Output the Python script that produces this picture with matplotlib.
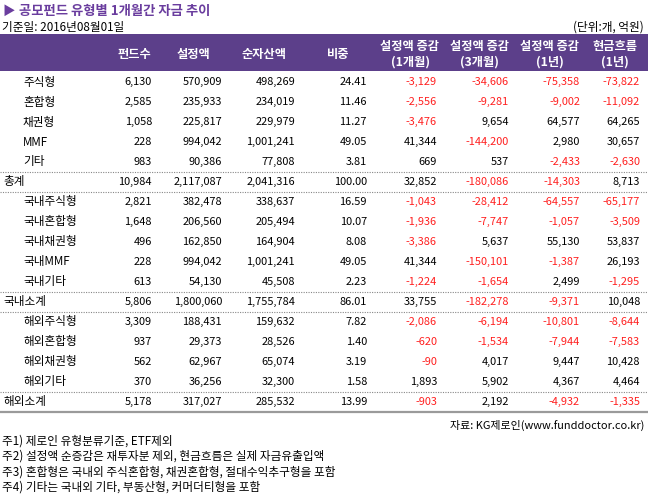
"""공모펀드 유형별 1개월간 자금 추이 table."""

import matplotlib

matplotlib.use("Agg")
import matplotlib.pyplot as plt

plt.rcParams["font.family"] = ["Noto Sans CJK KR", "DejaVu Sans"]

TITLE = "공모펀드 유형별 1개월간 자금 추이"
BASE_DATE = "기준일: 2016년08월01일"
UNIT = "(단위:개, 억원)"
SOURCE = "자료: KG제로인(www.funddoctor.co.kr)"
NOTES = [
    "주1) 제로인 유형분류기준, ETF제외",
    "주2) 설정액 순증감은 재투자분 제외, 현금흐름은 실제 자금유출입액",
    "주3) 혼합형은 국내외 주식혼합형, 채권혼합형, 절대수익추구형을 포함",
    "주4) 기타는 국내외 기타, 부동산형, 커머더티형을 포함",
]

headers = ["펀드수", "설정액", "순자산액", "비중", "설정액 증감\n(1개월)",
           "설정액 증감\n(3개월)", "설정액 증감\n(1년)", "현금흐름\n(1년)"]

row_labels = ["주식형", "혼합형", "채권형", "MMF", "기타", "총계",
              "국내주식형", "국내혼합형", "국내채권형", "국내MMF", "국내기타", "국내소계",
              "해외주식형", "해외혼합형", "해외채권형", "해외기타", "해외소계"]
is_total = [False] * 5 + [True] + [False] * 5 + [True] + [False] * 4 + [True]

fund_count = [6130, 2585, 1058, 228, 983, 10984,
              2821, 1648, 496, 228, 613, 5806,
              3309, 937, 562, 370, 5178]
aum_set = [570909, 235933, 225817, 994042, 90386, 2117087,
           382478, 206560, 162850, 994042, 54130, 1800060,
           188431, 29373, 62967, 36256, 317027]
net_assets = [498269, 234019, 229979, 1001241, 77808, 2041316,
              338637, 205494, 164904, 1001241, 45508, 1755784,
              159632, 28526, 65074, 32300, 285532]
weight = [24.41, 11.46, 11.27, 49.05, 3.81, 100.00,
          16.59, 10.07, 8.08, 49.05, 2.23, 86.01,
          7.82, 1.40, 3.19, 1.58, 13.99]
chg_1m = [-3129, -2556, -3476, 41344, 669, 32852,
          -1043, -1936, -3386, 41344, -1224, 33755,
          -2086, -620, -90, 1893, -903]
chg_3m = [-34606, -9281, 9654, -144200, 537, -180086,
          -28412, -7747, 5637, -150101, -1654, -182278,
          -6194, -1534, 4017, 5902, 2192]
chg_1y = [-75358, -9002, 64577, 2980, -2433, -14303,
          -64557, -1057, 55130, -1387, 2499, -9371,
          -10801, -7944, 9447, 4367, -4932]
cash_1y = [-73822, -11092, 64265, 30657, -2630, 8713,
           -65177, -3509, 53837, 26193, -1295, 10048,
           -8644, -7583, 10428, 4464, -1335]

PURPLE = "#5c3f8a"
TITLE_COLOR = "#6a3d9e"
RED = "#ff1f1f"
FS = 7.9       # numbers
FS_KR = 8.4    # korean labels / notes

col_right = [152, 222, 295, 367, 437, 509, 580, 640]
head_center = [134, 193, 264, 338, 410, 479, 550, 615]
row_y = [82 + 20 * i for i in range(len(row_labels))]
dotted_after = [4, 5, 10, 11, 15]

fig = plt.figure(figsize=(6.48, 4.99), dpi=100)
ax = fig.add_axes([0, 0, 1, 1])
ax.set_xlim(0, 648)
ax.set_ylim(499, 0)
ax.axis("off")

ax.text(2, 11, "▶", color=TITLE_COLOR, fontsize=9, va="center", ha="left")
ax.text(19, 11, TITLE, color=TITLE_COLOR, fontsize=9.6, fontweight="bold",
        va="center", ha="left")
ax.text(2, 27, BASE_DATE, fontsize=FS_KR, va="center", ha="left")
ax.text(644, 27, UNIT, fontsize=FS_KR, va="center", ha="right")

ax.add_patch(plt.Rectangle((0, 34), 648, 37, color=PURPLE, lw=0))
for x, h in zip(head_center, headers):
    ax.text(x, 54, h, color="white", fontsize=8.8, fontweight="bold",
            ha="center", va="center", linespacing=1.3)

columns = [fund_count, aum_set, net_assets, weight, chg_1m, chg_3m, chg_1y, cash_1y]
for i, (label, y) in enumerate(zip(row_labels, row_y)):
    ax.text(3 if is_total[i] else 23, y, label, fontsize=FS_KR, va="center", ha="left")
    for j, (x, col) in enumerate(zip(col_right, columns)):
        v = col[i]
        txt = f"{v:.2f}" if j == 3 else f"{v:,}"
        color = RED if (j >= 4 and v < 0) else "black"
        ax.text(x, y, txt, fontsize=FS, va="center", ha="right", color=color)

for i in dotted_after:
    y = (row_y[i] + row_y[i + 1]) / 2
    ax.plot([0, 648], [y, y], color="#888888", lw=0.8, ls=(0, (1, 1.2)))
ax.plot([0, 648], [row_y[-1] + 10, row_y[-1] + 10], color="#9a9a9a", lw=1.6)

ax.text(644, 425, SOURCE, fontsize=FS, va="center", ha="right")
for k, note in enumerate(NOTES):
    ax.text(2, 441 + 15.5 * k, note, fontsize=FS_KR, va="center", ha="left")

fig.savefig("out.png", dpi=100)
